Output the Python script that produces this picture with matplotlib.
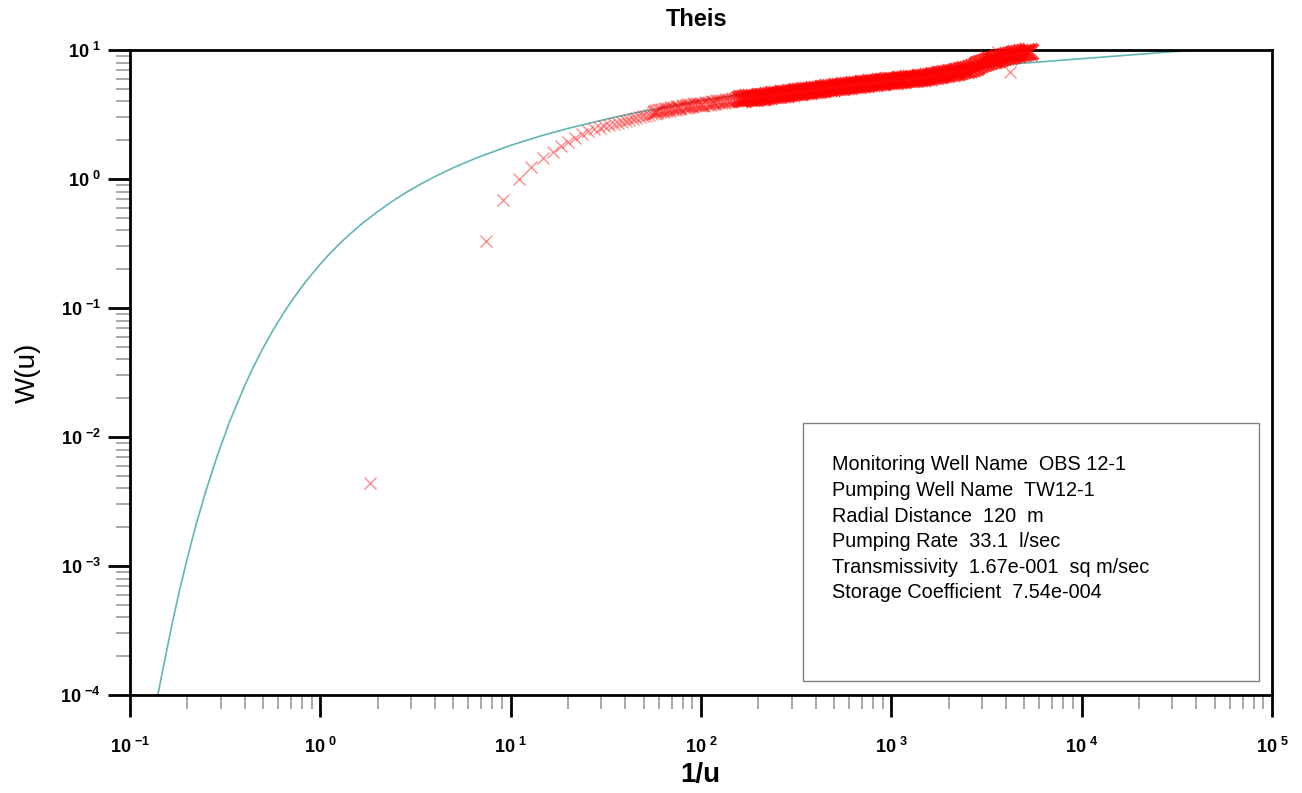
import matplotlib
matplotlib.use("Agg")
from matplotlib import pyplot as plt
from matplotlib.patches import Rectangle
from matplotlib.ticker import LogLocator, NullFormatter

plt.rcParams['font.family'] = ['Liberation Sans', 'DejaVu Sans']
plt.rcParams['mathtext.fontset'] = 'custom'
plt.rcParams['mathtext.rm'] = 'Liberation Sans'
plt.rcParams['mathtext.bf'] = 'Liberation Sans:bold'

# Theis type curve, 1/u vs W(u)
curve_inv_u = [0.14, 0.15, 0.1667, 0.1818, 0.2, 0.222, 0.25, 0.2857, 0.333, 0.3636,
               0.4, 0.4444, 0.5, 0.5714, 0.6667, 0.7143, 0.8333, 1.0, 1.111, 1.25,
               1.429, 1.667, 2.0, 2.5, 2.857, 3.333, 4.0, 5.0, 6.667, 10,
               14.29, 20, 33.33, 50, 100, 200, 500, 1000, 2000, 4000, 40000]
curve_w = [1.0e-4, 1.67e-4, 3.60e-4, 6.41e-4, 1.148e-3, 2.073e-3, 3.779e-3, 6.97e-3, 1.305e-2, 1.78e-2,
           2.491e-2, 3.48e-2, 4.89e-2, 6.95e-2, 0.1000, 0.1162, 0.1584, 0.2194, 0.2602, 0.3106,
           0.3738, 0.4544, 0.5598, 0.7024, 0.7944, 0.9057, 1.0443, 1.2227, 1.4645, 1.8229,
           2.1508, 2.4679, 2.9591, 3.3547, 4.0379, 4.7261, 5.6394, 6.3315, 7.0242, 7.7172, 10.02]

# observed data (1/u, W): early, well separated readings
early_inv_u = [1.83, 7.43, 9.12, 11.0, 12.8, 14.7, 16.6, 18.4, 20.1, 21.9, 23.7,
               25.6, 27.4, 29.3, 31.1, 33.0, 34.8, 36.6, 38.4, 40.3, 42.1, 44.0,
               45.8, 47.6, 49.5, 51.3, 53.1, 55.0]
early_w = [0.0044, 0.331, 0.687, 1.00, 1.24, 1.45, 1.62, 1.80, 1.94, 2.08, 2.22,
           2.34, 2.42, 2.50, 2.57, 2.63, 2.69, 2.74, 2.79, 2.84, 2.88, 2.93,
           2.97, 3.02, 3.06, 3.10, 3.14, 3.21]

# middle readings, starting to overlap
mid_inv_u = [57, 59, 61, 63, 65.5, 68, 70.5, 73, 75.5, 78, 81, 84, 87, 90, 93, 96,
             100, 103, 107, 111, 115, 119, 123, 127, 132, 137, 142, 147, 152, 157]
mid_w = [3.27, 3.31, 3.34, 3.37, 3.40, 3.44, 3.47, 3.50, 3.53, 3.56, 3.60, 3.63, 3.67, 3.70, 3.73, 3.74,
         3.76, 3.78, 3.80, 3.82, 3.85, 3.89, 3.92, 3.95, 3.98, 4.02, 4.05, 4.08, 4.11, 4.14]

# later readings, densely packed
late_inv_u = [163, 169, 175, 181, 187, 194, 201, 208, 215, 223, 231, 239, 247, 256,
              265, 274, 284, 294, 304, 315, 326, 337, 349, 361, 374, 387, 401, 415,
              430, 445, 461, 477, 494, 511, 529, 548, 567, 587, 608, 629, 651, 674,
              698, 722, 748, 774, 801, 829, 858, 888, 919, 951, 985, 1020, 1055, 1092,
              1130, 1170, 1211, 1254, 1298, 1343, 1390, 1439, 1490, 1542, 1596, 1652,
              1710, 1770, 1832, 1896, 1962, 2031, 2102, 2176, 2252, 2331, 2413, 2497,
              2585, 2675, 2769, 2866, 2966, 3070, 3178, 3289, 3404, 3524, 3647, 3775,
              3907, 4044, 4185, 4332, 4484, 4640, 4803, 4971, 5145, 5325]
late_w = [4.16, 4.19, 4.22, 4.24, 4.26, 4.28, 4.31, 4.32, 4.35, 4.38, 4.41, 4.44, 4.47, 4.51,
          4.54, 4.57, 4.60, 4.63, 4.66, 4.69, 4.73, 4.76, 4.79, 4.82, 4.85, 4.88, 4.91, 4.94,
          4.98, 5.01, 5.04, 5.07, 5.10, 5.13, 5.16, 5.20, 5.23, 5.26, 5.29, 5.32, 5.35, 5.38,
          5.42, 5.45, 5.48, 5.51, 5.54, 5.57, 5.60, 5.63, 5.66, 5.70, 5.73, 5.75, 5.78, 5.82,
          5.85, 5.88, 5.91, 5.94, 5.97, 6.00, 6.03, 6.07, 6.10, 6.16, 6.21, 6.26,
          6.31, 6.36, 6.42, 6.48, 6.54, 6.60, 6.66, 6.72, 6.78, 6.85, 6.96, 7.06,
          7.17, 7.28, 7.42, 7.60, 7.79, 7.94, 8.09, 8.22, 8.31, 8.42, 8.54, 8.69,
          8.85, 8.96, 9.04, 9.12, 9.24, 9.36, 9.44, 9.52, 9.64, 9.72]

# stray readings near the end
stray_inv_u = [4208, 3112, 3640]
stray_w = [6.75, 9.15, 9.69]

x_ticks = [1e-1, 1e0, 1e1, 1e2, 1e3, 1e4, 1e5]
x_exp = ['-1', '0', '1', '2', '3', '4', '5']
y_ticks = [1e-4, 1e-3, 1e-2, 1e-1, 1e0, 1e1]
y_exp = ['-4', '-3', '-2', '-1', '0', '1']

info_lines = ["Monitoring Well Name  OBS 12-1",
              "Pumping Well Name  TW12-1",
              "Radial Distance  120  m",
              "Pumping Rate  33.1  l/sec",
              "Transmissivity  1.67e-001  sq m/sec",
              "Storage Coefficient  7.54e-004"]

W, H = 1302, 793
fig = plt.figure(figsize=(W / 100, H / 100), dpi=100)
ax = fig.add_axes([130 / W, 1 - 695 / H, (1272 - 130) / W, (695 - 50) / H])
ax.set_xscale('log')
ax.set_yscale('log')

ax.plot(curve_inv_u, curve_w, color='#62b5b5', lw=1.2, zorder=2)
ax.plot(early_inv_u, early_w, ls='none', marker='x', color='red', ms=8.5, mew=1.0,
        alpha=0.45, clip_on=False, zorder=3)
ax.plot(mid_inv_u, mid_w, ls='none', marker='x', color='red', ms=9.5, mew=1.6,
        alpha=0.5, clip_on=False, zorder=3)
ax.plot(late_inv_u, late_w, ls='none', marker='x', color='red', ms=11.5, mew=3.0,
        alpha=0.75, clip_on=False, zorder=3)
ax.plot(stray_inv_u, stray_w, ls='none', marker='x', color='red', ms=8.5, mew=1.0,
        alpha=0.45, clip_on=False, zorder=3)

ax.set_xlim(1e-1, 1e5)
ax.set_ylim(1e-4, 1e1)

def lab(e):
    return r'$\mathbf{10}^{\ \mathbf{' + e + '}}$'

ax.set_xticks(x_ticks)
ax.set_xticklabels([lab(e) for e in x_exp])
ax.set_yticks(y_ticks)
ax.set_yticklabels([lab(e) for e in y_exp])
ax.xaxis.set_minor_locator(LogLocator(base=10, subs=range(2, 10), numticks=20))
ax.yaxis.set_minor_locator(LogLocator(base=10, subs=range(2, 10), numticks=20))
ax.xaxis.set_minor_formatter(NullFormatter())
ax.yaxis.set_minor_formatter(NullFormatter())

ax.tick_params(which='major', direction='out', length=16, width=2, color='black', labelsize=13)
ax.tick_params(axis='x', which='major', pad=14)
ax.tick_params(axis='y', which='major', pad=5)
ax.tick_params(which='minor', direction='out', length=10, width=1.2, color='#999999')
for s in ax.spines.values():
    s.set_linewidth(2)

fig.text(697 / W, 1 - 20 / H, 'Theis', ha='center', va='center', fontsize=17, fontweight='bold')
fig.text(700 / W, 1 - 775 / H, '1/u', ha='center', va='center', fontsize=20, fontweight='bold')
fig.text(28 / W, 1 - 373 / H, 'W(u)', ha='center', va='center', fontsize=20, rotation=90)

fig.add_artist(Rectangle((803 / W, 1 - 681 / H), (1259 - 803) / W, (681 - 423) / H,
                         transform=fig.transFigure, fill=False, ec='#808080', lw=1))
for i, t in enumerate(info_lines):
    fig.text(832 / W, 1 - (465 + i * 25.6) / H, t, ha='left', va='center', fontsize=14.3)

fig.savefig('out.png', dpi=100)
